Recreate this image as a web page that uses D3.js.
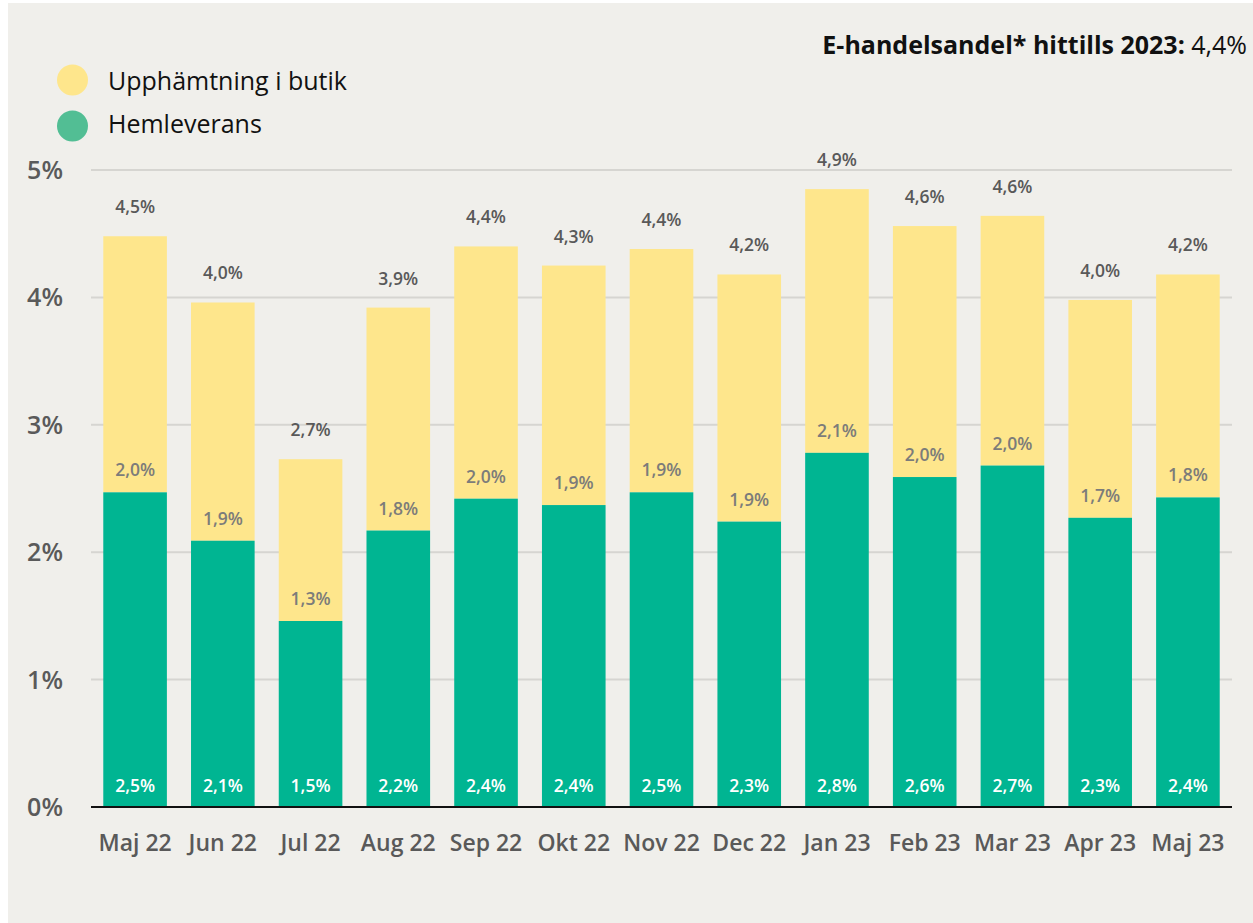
<!DOCTYPE html>
<html><head><meta charset="utf-8">
<script src="https://cdn.jsdelivr.net/npm/d3@7"></script>
<style>
html,body{margin:0;padding:0;background:#fff;}
svg{display:block;font-family:"Open Sans","Noto Sans",sans-serif;}
</style></head>
<body>
<svg id="chart" width="1253" height="923"></svg>
<script>
const categories = ["Maj 22","Jun 22","Jul 22","Aug 22","Sep 22","Okt 22","Nov 22","Dec 22","Jan 23","Feb 23","Mar 23","Apr 23","Maj 23"];
// Hemleverans (home delivery), % share
const hemleverans = [2.47,2.09,1.46,2.17,2.42,2.37,2.47,2.24,2.78,2.59,2.68,2.27,2.43];
// Upphämtning i butik (store pickup), % share
const upphamtning = [2.01,1.87,1.27,1.75,1.98,1.88,1.91,1.94,2.07,1.97,1.96,1.71,1.75];
// Reported labels
const hemLabels = ["2,5%","2,1%","1,5%","2,2%","2,4%","2,4%","2,5%","2,3%","2,8%","2,6%","2,7%","2,3%","2,4%"];
const uppLabels = ["2,0%","1,9%","1,3%","1,8%","2,0%","1,9%","1,9%","1,9%","2,1%","2,0%","2,0%","1,7%","1,8%"];
const totalLabels = ["4,5%","4,0%","2,7%","3,9%","4,4%","4,3%","4,4%","4,2%","4,9%","4,6%","4,6%","4,0%","4,2%"];
const yTicks = [0,1,2,3,4,5];
const legendItems = ["Upphämtning i butik","Hemleverans"];

(function(){
const svg = d3.select("#chart");
svg.append("rect").attr("x",8).attr("y",3).attr("width",1245).attr("height",920).attr("fill","#f0efeb");

const pLeft = 91, pRight = 1232, pTop = 170, pBottom = 807;
const x = d3.scaleBand().domain(categories).range([pLeft, pRight]).paddingInner(0.275).paddingOuter(0.14);
const y = d3.scaleLinear().domain([0,5]).range([pBottom, pTop]);

// gridlines
svg.append("g").selectAll("line").data(yTicks.filter(d=>d>0)).join("line")
  .attr("x1",pLeft).attr("x2",pRight).attr("y1",d=>y(d)).attr("y2",d=>y(d))
  .attr("stroke","#d6d5d1").attr("stroke-width",2);

// y labels
svg.append("g").selectAll("text").data(yTicks).join("text")
  .attr("x",63).attr("y",d=>y(d)+9).attr("text-anchor","end")
  .attr("font-size",25).attr("font-weight",600).attr("fill","#5a5a5a")
  .text(d=>d+"%");

const green = "#00b592", yellow = "#fee68c";
const bars = svg.append("g");
categories.forEach((c,i)=>{
  const h = hemleverans[i], u = upphamtning[i];
  bars.append("rect").attr("x",x(c)).attr("width",x.bandwidth())
    .attr("y",y(h+u)).attr("height",y(h)-y(h+u)).attr("fill",yellow);
  bars.append("rect").attr("x",x(c)).attr("width",x.bandwidth())
    .attr("y",y(h)).attr("height",y(0)-y(h)).attr("fill",green);
});

const cx = c => x(c)+x.bandwidth()/2;
// labels
svg.append("g").selectAll("text").data(categories).join("text")
  .attr("x",cx).attr("y",pBottom-15).attr("text-anchor","middle")
  .attr("font-size",17.5).attr("font-weight",600).attr("fill","#fff")
  .text((d,i)=>hemLabels[i]);
svg.append("g").selectAll("text").data(categories).join("text")
  .attr("x",cx).attr("y",(d,i)=>y(hemleverans[i])-16).attr("text-anchor","middle")
  .attr("font-size",17.5).attr("font-weight",600).attr("fill","#7c7c7a")
  .text((d,i)=>uppLabels[i]);
svg.append("g").selectAll("text").data(categories).join("text")
  .attr("x",cx).attr("y",(d,i)=>y(hemleverans[i]+upphamtning[i])-23).attr("text-anchor","middle")
  .attr("font-size",17.5).attr("font-weight",600).attr("fill","#595959")
  .text((d,i)=>totalLabels[i]);

// x axis
svg.append("line").attr("x1",pLeft).attr("x2",pRight).attr("y1",pBottom).attr("y2",pBottom)
  .attr("stroke","#111").attr("stroke-width",2);
svg.append("g").selectAll("text").data(categories).join("text")
  .attr("x",cx).attr("y",851).attr("text-anchor","middle")
  .attr("font-size",23).attr("font-weight",600).attr("fill","#595959")
  .text(d=>d);

// legend
const legColors = [yellow, "#52be94"];
const lg = svg.append("g");
legendItems.forEach((t,i)=>{
  lg.append("circle").attr("cx",72.5).attr("cy",80+i*46).attr("r",15.5).attr("fill",legColors[i]);
  lg.append("text").attr("x",108).attr("y",90+i*43).attr("font-size",25).attr("fill","#111").text(t);
});

// title
const tt = svg.append("text").attr("x",1247).attr("y",54).attr("text-anchor","end")
  .attr("font-size",25).attr("fill","#111");
tt.append("tspan").attr("font-weight",700).text("E-handelsandel* hittills 2023: ");
tt.append("tspan").attr("font-weight",400).text("4,4%");
})();
</script>
</body></html>
